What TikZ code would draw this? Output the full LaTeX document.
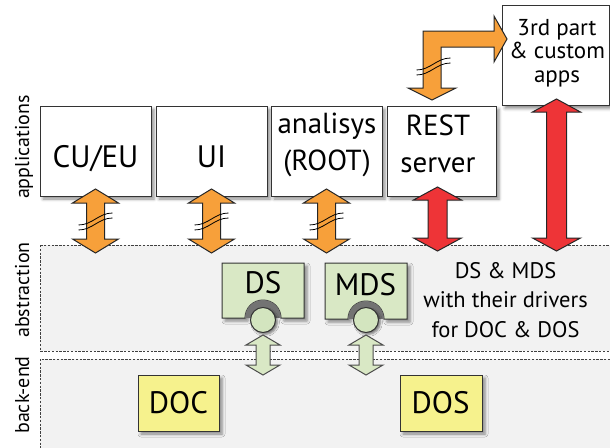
\documentclass[tikz,border=0pt]{standalone}
\usepackage{fontspec}
\setmainfont{PT Sans}
\usetikzlibrary{calc,shadows.blur}
\definecolor{orng}{HTML}{F7A03A}
\definecolor{redA}{HTML}{EE3437}
\definecolor{grn}{HTML}{D9E8C5}
\definecolor{grnc}{HTML}{D3E5BF}
\definecolor{yel}{HTML}{F6F28D}
\definecolor{bgl}{HTML}{F2F2F2}
\definecolor{edge}{HTML}{333333}
\tikzset{
  layer/.style={fill=bgl,draw=black!75,line width=0.9pt,dash pattern=on 2.4pt off 1.4pt},
  appbox/.style={rectangle,draw=edge,line width=1pt,fill=white,inner sep=0pt,
     blur shadow={shadow xshift=3pt,shadow yshift=-3pt,shadow blur radius=3pt,shadow opacity=45}},
  ybox/.style={appbox,fill=yel},
  gbox/.style={fill=grn,draw=edge,line width=1pt,
     blur shadow={shadow xshift=3pt,shadow yshift=-3pt,shadow blur radius=3pt,shadow opacity=45}},
  gcirc/.style={circle,fill=grnc,draw=edge,line width=1pt,minimum size=25pt,inner sep=0pt,
     blur shadow={shadow xshift=2pt,shadow yshift=-2pt,shadow blur radius=2pt,shadow opacity=50}},
  arrO/.style={fill=orng,draw=black!85,line width=1pt,line join=miter},
  arrR/.style={fill=redA,draw=black!85,line width=1pt,line join=miter},
  arrG/.style={fill=grn,draw=black!70,line width=1pt,line join=miter},
  brk/.style={draw=black,line width=0.8pt},
  bigtxt/.style={font=\fontsize{29}{37}\selectfont,inner sep=0pt,align=center},
  hugetxt/.style={font=\fontsize{31}{37}\selectfont,inner sep=0pt,align=center},
  midtxt/.style={font=\fontsize{23}{23.5}\selectfont,inner sep=0pt,align=center},
  smtxt/.style={font=\fontsize{22.5}{29.5}\selectfont,inner sep=0pt,align=center},
  lbltxt/.style={font=\fontsize{20}{24}\selectfont,inner sep=0pt,rotate=90,anchor=base},
}
% double block arrow: #1 top tip, #2 bottom tip, #3 style, #4 shaft half, #5 head half, #6 head length
\newcommand{\dblarr}[6]{%
  \path[#3] let \p1=(#1), \p2=(#2) in
    (\x1,\y1) -- (\x1+#5pt,\y1-#6pt) -- (\x1+#4pt,\y1-#6pt) -- (\x1+#4pt,\y2+#6pt)
    -- (\x1+#5pt,\y2+#6pt) -- (\x1,\y2) -- (\x1-#5pt,\y2+#6pt) -- (\x1-#4pt,\y2+#6pt)
    -- (\x1-#4pt,\y1-#6pt) -- (\x1-#5pt,\y1-#6pt) -- cycle;}
% break mark centred at #1
\newcommand{\brkmark}[1]{%
  \draw[brk] ($(#1)+(-17,4)$) .. controls ($(#1)+(-3,4)$) and ($(#1)+(3,-8)$) .. ($(#1)+(17,-8)$);
  \draw[brk] ($(#1)+(-17,9)$) .. controls ($(#1)+(-3,9)$) and ($(#1)+(3,-3)$) .. ($(#1)+(17,-3)$);}
% green box with notch: #1 name, #2 x1, #3 y1, #4 x2, #5 y2, #6 notch centre x
\newcommand{\notchbox}[6]{%
  \path[gbox] (#2,#3) -- (#4,#3) -- (#4,#5) -- (#6+18,#5)
     arc[start angle=0,end angle=-180,radius=18] -- (#2,#5) -- cycle;
  \fill[black!55] (#6+18,#5) arc[start angle=0,end angle=-180,radius=18] -- cycle;
  \coordinate (#1) at (#6,#3);}
\begin{document}
\begin{tikzpicture}[x=1pt,y=-1pt]
\useasboundingbox (0,0) rectangle (610,447);
\clip (0,0) rectangle (610,447);
% layers
\path[layer] (40,245) rectangle (625,351);
\path[layer] (40,359) rectangle (625,460);
% side labels
\node[lbltxt] (lapp) at (29,147) {applications};
\node[lbltxt] (labs) at (29,290) {abstraction};
\node[lbltxt] (lbe)  at (29,395) {back-end};
% application boxes
\node[appbox,minimum width=111pt,minimum height=90pt] (cu)   at (95.5,151) {};
\node[appbox,minimum width=111pt,minimum height=90pt] (ui)   at (211.5,151) {};
\node[appbox,minimum width=111pt,minimum height=90pt] (an)   at (326.5,151) {};
\node[appbox,minimum width=109pt,minimum height=90pt] (rest) at (441.5,151) {};
\node[appbox,minimum width=107pt,minimum height=100pt] (third) at (555.5,55.5) {};
\node[hugetxt,anchor=base] (cut) at (95.5,167) {CU/EU};
\node[hugetxt,anchor=base] (uit) at (211.5,167) {UI};
\node[bigtxt,anchor=north] (ant) at (327,113) {analisys\\(ROOT)};
\node[bigtxt,anchor=north] (restt) at (438,114.5) {REST\\server};
\node[midtxt,anchor=north] (thirdt) at (557,19) {3rd part\\\&~custom\\apps};
% abstraction
\notchbox{ds}{222}{263}{304}{318}{263}
\notchbox{mds}{325}{263}{407}{319}{366}
\node[gcirc] (dsc) at (263,320) {};
\node[gcirc] (mdsc) at (366,320) {};
\node[hugetxt,anchor=base] (dst) at (263,293) {DS};
\node[hugetxt,anchor=base] (mdst) at (365.5,295) {MDS};
\node[smtxt,anchor=north] (note) at (505.5,262) {DS \& MDS\\with their drivers\\for DOC \& DOS};
% back-end
\node[ybox,minimum width=81pt,minimum height=56pt] (doc) at (178.5,403) {};
\node[ybox,minimum width=82pt,minimum height=56pt] (dos) at (441,403) {};
\node[hugetxt,anchor=base] (doct) at (178.5,413) {DOC};
\node[hugetxt,anchor=base] (dost) at (440.5,413) {DOS};
% arrow end coordinates
\coordinate (a1t) at (95.5,189);  \coordinate (a1b) at (95.5,253);
\coordinate (a2t) at (211.5,189); \coordinate (a2b) at (211.5,253);
\coordinate (a3t) at (326.5,189); \coordinate (a3b) at (326.5,253);
\coordinate (r1t) at (437.5,187); \coordinate (r1b) at (437.5,251);
\coordinate (r2t) at (556.5,99);  \coordinate (r2b) at (556.5,251);
\coordinate (g1t) at (263,335);   \coordinate (g1b) at (263,375);
\coordinate (g2t) at (366,335);   \coordinate (g2b) at (366,375);
\coordinate (bdn) at (432,100);   \coordinate (brt) at (507,39);
% arrows
\dblarr{a1t}{a1b}{arrO}{9}{23}{14}
\dblarr{a2t}{a2b}{arrO}{9}{23}{14}
\dblarr{a3t}{a3b}{arrO}{9}{23}{14}
\dblarr{r1t}{r1b}{arrR}{9.5}{24}{13}
\dblarr{r2t}{r2b}{arrR}{10}{24}{13}
\dblarr{g1t}{g1b}{arrG}{7}{17}{10}
\dblarr{g2t}{g2b}{arrG}{7}{17}{10}
\path[arrO] let \p1=(bdn), \p2=(brt) in
  (\x1,\y1) -- (\x1+24pt,\y1+12pt) -- (\x1+9pt,\y1+12pt) -- (\x1+9pt,\y2-8pt)
  -- (\x2-13pt,\y2-8pt) -- (\x2-13pt,\y2-23pt) -- (\x2,\y2) -- (\x2-13pt,\y2+23pt)
  -- (\x2-13pt,\y2+8pt) -- (\x1-9pt,\y2+8pt) -- (\x1-9pt,\y1+12pt) -- (\x1-24pt,\y1+12pt) -- cycle;
\coordinate (k1) at (95.5,221);
\coordinate (k2) at (211.5,221);
\coordinate (k3) at (326.5,221);
\coordinate (k4) at (433.5,66);
\brkmark{k1}\brkmark{k2}\brkmark{k3}\brkmark{k4}
\end{tikzpicture}
\end{document}
